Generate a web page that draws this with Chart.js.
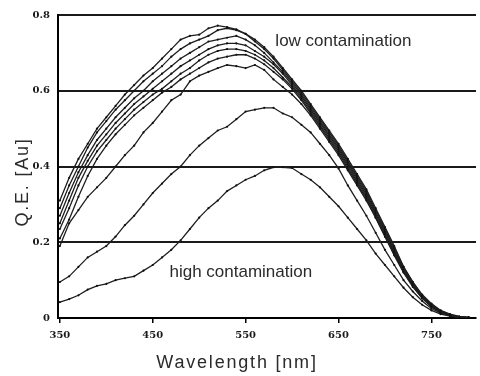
<!DOCTYPE html>
<html>
<head>
<meta charset="utf-8">
<script src="https://cdn.jsdelivr.net/npm/chart.js@4.4.1/dist/chart.umd.min.js"></script>
<style>
    html, body { margin: 0; padding: 0; background: #fff; }
    #wrap { width: 480px; height: 376px; }
</style>
</head>
<body>
<div id="wrap"><canvas id="qeChart" width="480" height="376"></canvas></div>
<script>
// wavelength grid (nm)
const wavelengths = [350, 360, 370, 380, 390, 400, 410, 420, 430, 440,
                     450, 460, 470, 480, 490, 500, 510, 520, 530, 540,
                     550, 560, 570, 580, 590, 600, 610, 620, 630, 640,
                     650, 660, 670, 680, 690, 700, 710, 720, 730, 740,
                     750, 760, 770, 780, 790];

// low contamination samples
const sample1 = [0.31, 0.37, 0.42, 0.46, 0.50, 0.53, 0.56, 0.59, 0.615, 0.64,
                 0.66, 0.685, 0.71, 0.735, 0.745, 0.748, 0.765, 0.772, 0.768, 0.762,
                 0.75, 0.735, 0.715, 0.69, 0.66, 0.63, 0.60, 0.565, 0.53, 0.495,
                 0.46, 0.42, 0.38, 0.34, 0.29, 0.24, 0.19, 0.135, 0.095, 0.062,
                 0.038, 0.02, 0.01, 0.004, 0.001];
const sample2 = [0.29, 0.35, 0.40, 0.45, 0.49, 0.52, 0.55, 0.575, 0.60, 0.625,
                 0.645, 0.665, 0.69, 0.71, 0.725, 0.735, 0.745, 0.76, 0.765, 0.76,
                 0.75, 0.73, 0.71, 0.685, 0.655, 0.625, 0.595, 0.56, 0.525, 0.49,
                 0.455, 0.415, 0.375, 0.335, 0.285, 0.235, 0.185, 0.135, 0.095, 0.06,
                 0.036, 0.019, 0.009, 0.003, 0.001];
const sample3 = [0.27, 0.33, 0.385, 0.43, 0.47, 0.50, 0.53, 0.555, 0.58, 0.60,
                 0.625, 0.645, 0.665, 0.685, 0.70, 0.715, 0.73, 0.735, 0.74, 0.745,
                 0.735, 0.72, 0.70, 0.675, 0.65, 0.62, 0.59, 0.555, 0.52, 0.485,
                 0.45, 0.41, 0.37, 0.33, 0.28, 0.23, 0.18, 0.13, 0.09, 0.058,
                 0.034, 0.018, 0.008, 0.003, 0.001];
const sample4 = [0.25, 0.31, 0.37, 0.415, 0.455, 0.485, 0.515, 0.54, 0.565, 0.585,
                 0.605, 0.625, 0.645, 0.665, 0.68, 0.695, 0.71, 0.72, 0.725, 0.725,
                 0.72, 0.705, 0.69, 0.67, 0.645, 0.615, 0.585, 0.55, 0.515, 0.48,
                 0.445, 0.405, 0.365, 0.325, 0.275, 0.225, 0.175, 0.128, 0.088, 0.056,
                 0.033, 0.017, 0.008, 0.003, 0.001];
const sample5 = [0.235, 0.29, 0.35, 0.40, 0.44, 0.47, 0.50, 0.525, 0.55, 0.57,
                 0.59, 0.605, 0.625, 0.645, 0.66, 0.68, 0.695, 0.705, 0.71, 0.71,
                 0.705, 0.695, 0.68, 0.66, 0.635, 0.61, 0.58, 0.545, 0.51, 0.475,
                 0.44, 0.40, 0.36, 0.32, 0.27, 0.22, 0.172, 0.125, 0.086, 0.055,
                 0.032, 0.016, 0.007, 0.003, 0.001];
const sample6 = [0.21, 0.26, 0.32, 0.375, 0.42, 0.455, 0.485, 0.51, 0.535, 0.555,
                 0.575, 0.595, 0.61, 0.63, 0.645, 0.66, 0.675, 0.685, 0.69, 0.695,
                 0.695, 0.685, 0.67, 0.65, 0.63, 0.605, 0.575, 0.54, 0.505, 0.47,
                 0.435, 0.395, 0.355, 0.315, 0.265, 0.215, 0.168, 0.122, 0.084, 0.053,
                 0.03, 0.015, 0.007, 0.002, 0.001];
// intermediate / high contamination samples
const sample7 = [0.19, 0.25, 0.285, 0.32, 0.345, 0.37, 0.40, 0.43, 0.455, 0.49,
                 0.515, 0.545, 0.575, 0.59, 0.625, 0.64, 0.65, 0.66, 0.668, 0.665,
                 0.66, 0.668, 0.655, 0.63, 0.61, 0.59, 0.565, 0.535, 0.50, 0.465,
                 0.43, 0.39, 0.35, 0.31, 0.265, 0.215, 0.165, 0.12, 0.082, 0.052,
                 0.03, 0.015, 0.007, 0.002, 0.001];
const sample8 = [0.095, 0.11, 0.135, 0.16, 0.175, 0.19, 0.215, 0.245, 0.27, 0.30,
                 0.33, 0.355, 0.38, 0.40, 0.43, 0.455, 0.475, 0.495, 0.505, 0.525,
                 0.545, 0.55, 0.555, 0.555, 0.54, 0.53, 0.51, 0.49, 0.46, 0.43,
                 0.395, 0.35, 0.31, 0.27, 0.225, 0.18, 0.14, 0.10, 0.07, 0.045,
                 0.025, 0.013, 0.006, 0.002, 0.001];
const sample9 = [0.042, 0.05, 0.06, 0.075, 0.085, 0.09, 0.10, 0.105, 0.11, 0.125,
                 0.14, 0.16, 0.18, 0.205, 0.235, 0.265, 0.29, 0.31, 0.335, 0.35,
                 0.365, 0.375, 0.39, 0.398, 0.398, 0.396, 0.38, 0.365, 0.345, 0.32,
                 0.295, 0.265, 0.235, 0.205, 0.17, 0.14, 0.11, 0.08, 0.055, 0.035,
                 0.02, 0.01, 0.005, 0.002, 0.001];

const allSamples = [sample1, sample2, sample3, sample4, sample5, sample6, sample7, sample8, sample9];

const xTicks = [350, 450, 550, 650, 750];
const xTickLabels = ['350', '450', '550', '650', '750'];
const yTicks = [0, 0.2, 0.4, 0.6, 0.8];
const yTickLabels = ['0', '0.2', '0.4', '0.6', '0.8'];

const xTitle = 'Wavelength [nm]';
const yTitle = 'Q.E. [Au]';
const notes = [
    { text: 'low contamination', x: 582, y: 0.718 },
    { text: 'high contamination', x: 468, y: 0.108 }
];

// draws the in-plot notes and the axis titles
const textPlugin = {
    id: 'textLabels',
    afterDraw(chart) {
        const { ctx, scales: { x, y } } = chart;
        ctx.save();
        ctx.fillStyle = '#2b2b2b';
        ctx.textBaseline = 'alphabetic';
        ctx.font = '17px "Liberation Sans", Arial, sans-serif';
        ctx.textAlign = 'left';
        notes.forEach(n => {
            ctx.fillText(n.text, x.getPixelForValue(n.x), y.getPixelForValue(n.y));
        });

        ctx.font = '18px "Liberation Sans", Arial, sans-serif';
        ctx.letterSpacing = '1.8px';
        ctx.textAlign = 'center';
        ctx.fillText(xTitle, 237, 368);

        ctx.translate(28, 182);
        ctx.rotate(-Math.PI / 2);
        ctx.fillText(yTitle, 0, 0);
        ctx.restore();
    }
};

const ctx = document.getElementById('qeChart').getContext('2d');

new Chart(ctx, {
    type: 'line',
    data: {
        datasets: allSamples.map(s => ({
            data: wavelengths.map((w, i) => ({ x: w, y: s[i] })),
            borderColor: '#1e1e1e',
            borderWidth: 1.3,
            pointRadius: 1.1,
            pointBorderWidth: 0,
            pointBackgroundColor: '#111',
            tension: 0,
            fill: false
        }))
    },
    options: {
        responsive: false,
        animation: false,
        layout: { padding: { top: 15, right: 0, bottom: 0, left: 0 } },
        plugins: {
            legend: { display: false },
            tooltip: { enabled: false }
        },
        scales: {
            x: {
                type: 'linear',
                min: 348,
                max: 798,
                afterFit: s => { s.height = 58; },
                afterBuildTicks: s => { s.ticks = xTicks.map(v => ({ value: v })); },
                grid: { drawOnChartArea: false, drawTicks: true, tickLength: 5, color: '#000', lineWidth: 1.5 },
                border: { color: '#000', width: 2 },
                ticks: {
                    padding: 6,
                    autoSkip: false,
                    maxRotation: 0,
                    color: '#1a1a1a',
                    font: { family: '"DejaVu Serif", serif', size: 10, weight: 'bold' },
                    callback: (v, i) => xTickLabels[i]
                }
            },
            y: {
                min: 0,
                max: 0.8,
                afterFit: s => { s.width = 58; },
                afterBuildTicks: s => { s.ticks = yTicks.map(v => ({ value: v })); },
                grid: { color: '#1a1a1a', lineWidth: 2, drawTicks: false },
                border: { color: '#000', width: 2 },
                ticks: {
                    padding: 8,
                    color: '#1a1a1a',
                    font: { family: '"DejaVu Serif", serif', size: 10, weight: 'bold' },
                    callback: (v, i) => yTickLabels[i]
                }
            }
        }
    },
    plugins: [textPlugin]
});
</script>
</body>
</html>
